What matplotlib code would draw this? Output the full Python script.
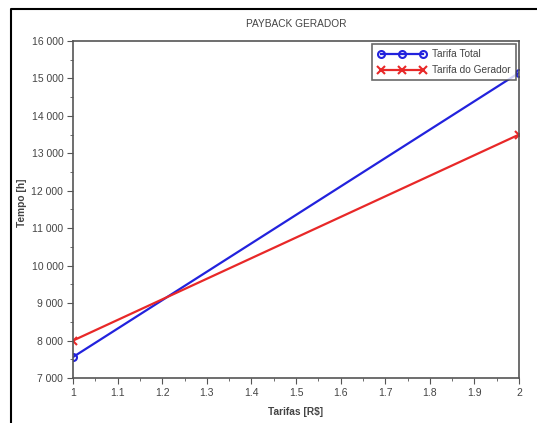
import matplotlib.pyplot as plt
from matplotlib.lines import Line2D
from matplotlib.ticker import FuncFormatter, MultipleLocator

plt.rcParams['font.family'] = ['Liberation Sans', 'DejaVu Sans']

tarifas = [1.0, 2.0]
tarifa_total = [7560, 15150]
tarifa_gerador = [8000, 13500]

fig = plt.figure(figsize=(5.37, 4.23), dpi=100)
ax = fig.add_axes([0.136, 0.1064, 0.8305, 0.7967])

ax.plot(tarifas, tarifa_total, color='#2222dd', lw=1.6, marker='o',
        mfc='none', mec='#2222dd', ms=5, mew=1.5, label='Tarifa Total')
ax.plot(tarifas, tarifa_gerador, color='#e82828', lw=1.6, marker='x',
        ms=6, mew=1.5, label='Tarifa do Gerador')

ax.set_xlim(1, 2)
ax.set_ylim(7000, 16000)
ax.xaxis.set_major_locator(MultipleLocator(0.1))
ax.xaxis.set_minor_locator(MultipleLocator(0.05))
ax.yaxis.set_major_locator(MultipleLocator(1000))
ax.yaxis.set_minor_locator(MultipleLocator(500))
ax.xaxis.set_major_formatter(FuncFormatter(lambda v, p: '%g' % round(v, 2)))
ax.yaxis.set_major_formatter(FuncFormatter(lambda v, p: '{:,.0f}'.format(v).replace(',', ' ')))

gray = '#555555'
txt = '#444444'
for s in ax.spines.values():
    s.set_color(gray)
    s.set_linewidth(1.2)
ax.tick_params(which='major', direction='out', length=4, color=gray,
               labelsize=7.5, labelcolor=txt, pad=3)
ax.tick_params(which='minor', direction='out', length=2, color=gray)

ax.set_title('PAYBACK GERADOR', fontsize=7.3, color=txt, pad=10,
             fontweight='medium')
ax.set_xlabel('Tarifas [R$]', fontsize=7.3, color=txt, labelpad=7,
              fontweight='semibold')
ax.set_ylabel('Tempo [h]', fontsize=7.3, color=txt, fontweight='semibold',
              va='center')
ax.yaxis.set_label_coords(-0.114, 0.52)

leg = ax.legend(loc='upper right', numpoints=3, fontsize=7.3, frameon=True,
                fancybox=False, borderaxespad=0.3, handlelength=4.8,
                borderpad=0.5, labelspacing=0.6, handletextpad=0.6)
leg.get_frame().set_edgecolor(txt)
leg.get_frame().set_linewidth(1.2)
for t in leg.get_texts():
    t.set_color(txt)

# outer frame of the screenshot
fig.add_artist(Line2D([0.0205, 0.0205, 1.0], [0.0, 0.9787, 0.9787],
                      color='black', lw=1.5, transform=fig.transFigure))

fig.savefig('out.png', dpi=100)
